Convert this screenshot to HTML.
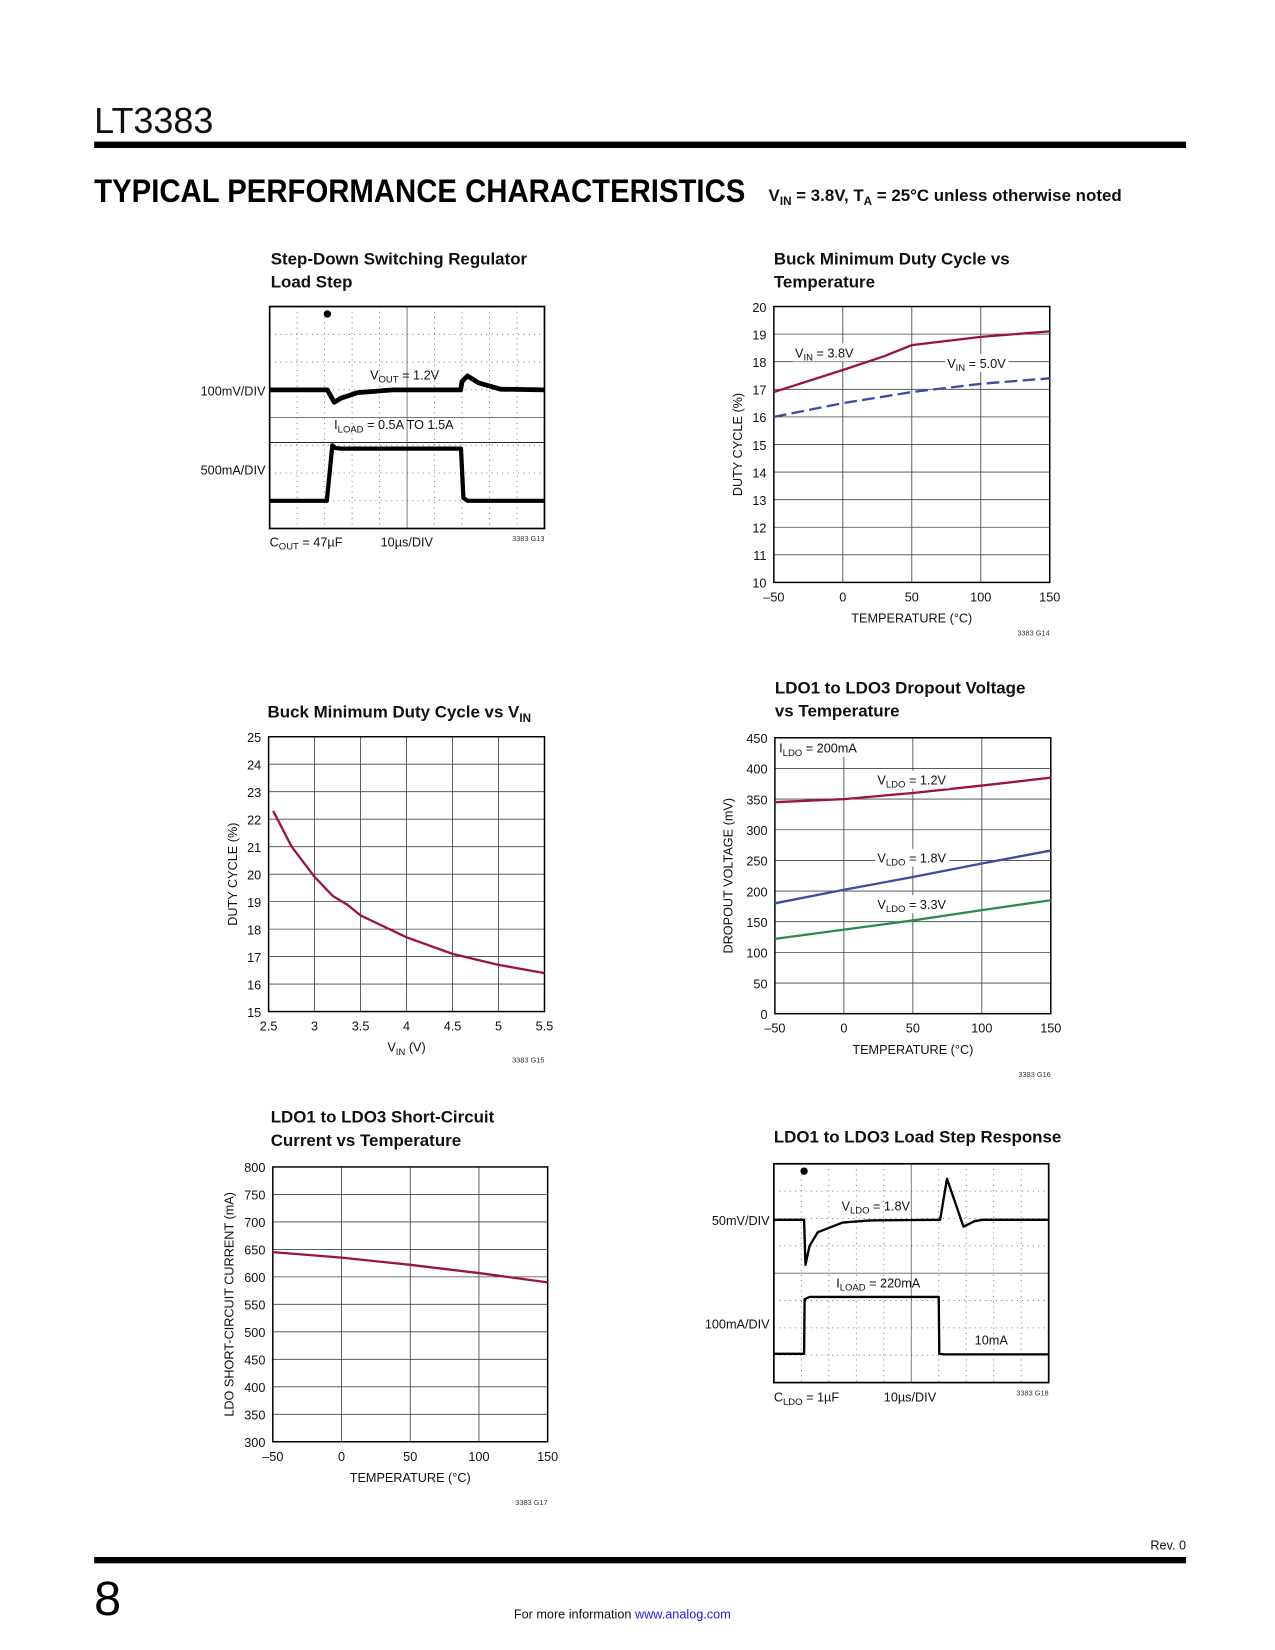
<!DOCTYPE html>
<html><head><meta charset="utf-8">
<style>
html,body{margin:0;padding:0;background:#fff;}
svg{display:block;font-family:"Liberation Sans Narrow","Liberation Sans",sans-serif;}
.t{font-size:12px;fill:#111;}
.h{font-size:16px;font-weight:bold;fill:#111;}
.s{font-size:7px;fill:#333;}
</style></head>
<body>
<svg id="pg" width="1275" height="1650" viewBox="0 0 1206 1561" xmlns="http://www.w3.org/2000/svg">
<text x="89" y="126" font-size="34" font-family="Liberation Sans" fill="#111">LT3383</text>
<rect x="89" y="134" width="1033" height="6" fill="#000"/>
<text x="89" y="191" font-size="31" font-weight="bold" fill="#000" textLength="616" lengthAdjust="spacingAndGlyphs">TYPICAL PERFORMANCE CHARACTERISTICS</text>
<text x="727" y="190" font-size="16" font-weight="bold" fill="#111">V<tspan font-size="11" dy="4">IN</tspan><tspan dy="-4"> = 3.8V, T</tspan><tspan font-size="11" dy="4">A</tspan><tspan dy="-4"> = 25°C unless otherwise noted</tspan></text>
<g id="charts"></g>
<text x="1122" y="1466" text-anchor="end" class="t" font-size="12">Rev. 0</text>
<rect x="89" y="1473" width="1033" height="6" fill="#000"/>
<text x="89" y="1528" font-size="46" font-family="Liberation Sans" fill="#000">8</text>
<text x="486" y="1531" class="t" font-size="14">For more information <tspan fill="#1a1aff">www.analog.com</tspan></text>
</svg>
<script>
// Chart 2: Buck min duty cycle vs temperature
const c2Temp=[-50,0,30,50,100,150];
const c2Vin38=[16.9,17.7,18.2,18.6,18.9,19.1];
const c2TempB=[-50,0,50,100,150];
const c2Vin50=[16.0,16.5,16.9,17.2,17.4];
const c2YTicks=[10,11,12,13,14,15,16,17,18,19,20];
const c2XTicks=[-50,0,50,100,150];
// Chart 3: duty cycle vs VIN
const c3Vin=[2.55,2.75,3.0,3.2,3.35,3.5,4.0,4.5,5.0,5.5];
const c3Duty=[22.3,21.0,19.9,19.2,18.9,18.5,17.7,17.1,16.7,16.4];
const c3YTicks=[15,16,17,18,19,20,21,22,23,24,25];
const c3XTicks=[2.5,3,3.5,4,4.5,5,5.5];
// Chart 4: dropout voltage
const c4Temp=[-50,0,50,100,150];
const c4V12=[345,350,360,372,385];
const c4V18=[180,202,223,245,266];
const c4V33=[122,137,152,169,185];
const c4YTicks=[0,50,100,150,200,250,300,350,400,450];
const c4XTicks=[-50,0,50,100,150];
// Chart 5: short-circuit current
const c5Temp=[-50,0,50,100,150];
const c5Cur=[645,635,622,607,590];
const c5YTicks=[300,350,400,450,500,550,600,650,700,750,800];
const c5XTicks=[-50,0,50,100,150];
// Scope traces (divisions)
const s1VoutT=[0,2.1,2.35,2.6,3.2,4.5,6.95,7.0,7.2,7.6,8.4,10];
const s1VoutV=[3.0,3.0,3.45,3.3,3.1,3.0,3.0,2.7,2.5,2.75,2.98,3.0];
const s1IT=[0,2.08,2.28,2.4,2.6,6.96,7.05,7.2,10];
const s1IV=[7.0,7.0,5.0,5.1,5.12,5.12,6.9,7.0,7.0];
const s2VT=[0,1.1,1.15,1.3,1.6,2.5,3.5,6.0,6.05,6.3,6.9,7.3,7.6,10];
const s2VV=[2.05,2.05,3.7,3.0,2.5,2.15,2.07,2.05,2.05,0.55,2.3,2.1,2.05,2.05];
const s2IT=[0,1.1,1.12,1.3,6.0,6.02,6.2,10];
const s2IV=[6.95,6.95,4.95,4.87,4.87,6.95,6.97,6.97];

const NS="http://www.w3.org/2000/svg";
const root=document.getElementById('charts');
function el(tag,attrs,parent){const e=document.createElementNS(NS,tag);for(const k in attrs)e.setAttribute(k,attrs[k]);(parent||root).appendChild(e);return e;}
function txt(x,y,s,cls,anchor,parent){const e=el('text',{x:x,y:y,class:cls||'t','text-anchor':anchor||'start'},parent);e.innerHTML=s;return e;}

function xyChart(o){
  const g=el('g',{});
  
  
  const sx=v=>o.x0+(v-o.xmin)/(o.xmax-o.xmin)*(o.x1-o.x0);
  const sy=v=>o.y1-(v-o.ymin)/(o.ymax-o.ymin)*(o.y1-o.y0);
  o.yt.forEach(v=>{const l=el('line',{x1:o.x0,x2:o.x1,y1:sy(v),y2:sy(v),stroke:'#444','stroke-width':0.8},g);
    
    
    const t=txt(o.x0-7,sy(v)+5,String(v),'t','end',g);
    
    });
  o.xt.forEach(v=>{const l=el('line',{x1:sx(v),x2:sx(v),y1:o.y0,y2:o.y1,stroke:'#444','stroke-width':0.8},g);
    
    
    const t=txt(sx(v),o.y1+18,String(v).replace('-','–'),'t','middle',g);
    
    });
  const b=el('rect',{x:o.x0,y:o.y0,width:o.x1-o.x0,height:o.y1-o.y0,fill:'none',stroke:'#000','stroke-width':1.4},g);
  
  
  o.series.forEach(s=>{
    const d=s.x.map((v,i)=>(i?'L':'M')+sx(v).toFixed(1)+' '+sy(s.y[i]).toFixed(1)).join(' ');
    const p=el('path',{d:d,fill:'none',stroke:s.c,'stroke-width':2.2,'stroke-dasharray':s.dash||'none'},g);
    
    
  });
  const tl=txt(o.tx,o.ty,o.title,'h','start',g);
  
  
  const xl=txt((o.x0+o.x1)/2,o.y1+38,o.xlabel,'t','middle',g);
  
  
  const yl=txt(0,0,o.ylabel,'t','middle',g);
  yl.setAttribute('transform','translate('+o.ylx+','+(o.y0+o.y1)/2+') rotate(-90)');
  
  
  const id=txt(o.x1,o.y1+o.idy,o.id,'s','end',g);
  
  
  (o.labels||[]).forEach(L=>{
    if(L.bg){el('rect',{x:L.x-2,y:L.y-13,width:L.w,height:17,fill:'#fff'},g);}
    const t=txt(L.x,L.y,L.s,'t','start',g);
    
    
  });
  return g;
}

xyChart({name:'duty-cycle-vs-temperature-chart',x0:732,x1:993,y0:290,y1:551,xmin:-50,xmax:150,ymin:10,ymax:20,xt:c2XTicks,yt:c2YTicks,
 series:[{x:c2Temp,y:c2Vin38,c:'#9b1535',name:'series-vin-3v8'},{x:c2TempB,y:c2Vin50,c:'#3a4fa3',dash:'12 5',name:'series-vin-5v0'}],
 title:'<tspan x="732">Buck Minimum Duty Cycle vs</tspan><tspan x="732" dy="22">Temperature</tspan>',tx:732,ty:250,
 xlabel:'TEMPERATURE (°C)',ylabel:'DUTY CYCLE (%)',ylx:702,id:'3383 G14',idy:50,
 labels:[{x:752,y:338,s:'V<tspan font-size="9" dy="3">IN</tspan><tspan dy="-3"> = 3.8V</tspan>',bg:1,w:60},{x:896,y:348,s:'V<tspan font-size="9" dy="3">IN</tspan><tspan dy="-3"> = 5.0V</tspan>',bg:1,w:60}]});

xyChart({name:'duty-cycle-vs-vin-chart',x0:254,x1:515,y0:697,y1:957,xmin:2.5,xmax:5.5,ymin:15,ymax:25,xt:c3XTicks,yt:c3YTicks,
 series:[{x:c3Vin,y:c3Duty,c:'#9b1535',name:'series-duty-cycle'}],
 title:'Buck Minimum Duty Cycle vs V<tspan font-size="11" dy="4">IN</tspan>',tx:253,ty:679,
 xlabel:'V<tspan font-size="9" dy="3">IN</tspan><tspan dy="-3"> (V)</tspan>',ylabel:'DUTY CYCLE (%)',ylx:224,id:'3383 G15',idy:48});

xyChart({name:'dropout-voltage-chart',x0:733,x1:994,y0:698,y1:959,xmin:-50,xmax:150,ymin:0,ymax:450,xt:c4XTicks,yt:c4YTicks,
 series:[{x:c4Temp,y:c4V12,c:'#9b1535',name:'series-vldo-1v2'},{x:c4Temp,y:c4V18,c:'#3a4fa3',name:'series-vldo-1v8'},{x:c4Temp,y:c4V33,c:'#2e8a4a',name:'series-vldo-3v3'}],
 title:'<tspan x="733">LDO1 to LDO3 Dropout Voltage</tspan><tspan x="733" dy="22">vs Temperature</tspan>',tx:733,ty:656,
 xlabel:'TEMPERATURE (°C)',ylabel:'DROPOUT VOLTAGE (mV)',ylx:693,id:'3383 G16',idy:60,
 labels:[{x:737,y:712,s:'I<tspan font-size="9" dy="3">LDO</tspan><tspan dy="-3"> = 200mA</tspan>',bg:1,w:80},
 {x:830,y:742,s:'V<tspan font-size="9" dy="3">LDO</tspan><tspan dy="-3"> = 1.2V</tspan>',bg:1,w:70},
 {x:830,y:816,s:'V<tspan font-size="9" dy="3">LDO</tspan><tspan dy="-3"> = 1.8V</tspan>',bg:1,w:70},
 {x:830,y:860,s:'V<tspan font-size="9" dy="3">LDO</tspan><tspan dy="-3"> = 3.3V</tspan>',bg:1,w:70}]});

xyChart({name:'short-circuit-current-chart',x0:258,x1:518,y0:1104,y1:1364,xmin:-50,xmax:150,ymin:300,ymax:800,xt:c5XTicks,yt:c5YTicks,
 series:[{x:c5Temp,y:c5Cur,c:'#9b1535',name:'series-short-circuit-current'}],
 title:'<tspan x="256">LDO1 to LDO3 Short-Circuit</tspan><tspan x="256" dy="22">Current vs Temperature</tspan>',tx:256,ty:1062,
 xlabel:'TEMPERATURE (°C)',ylabel:'LDO SHORT-CIRCUIT CURRENT (mA)',ylx:221,id:'3383 G17',idy:60});

function scope(o){
  const g=el('g',{});
  
  
  const dw=(o.x1-o.x0)/10, dh=(o.y1-o.y0)/8;
  const sx=v=>o.x0+v*dw, sy=v=>o.y0+v*dh;
  for(let i=1;i<10;i++){el('line',{x1:sx(i),x2:sx(i),y1:o.y0,y2:o.y1,stroke:'#666','stroke-width':0.8,'stroke-dasharray':i==5?'none':'1 4'},g);}
  for(let j=1;j<8;j++){el('line',{x1:o.x0,x2:o.x1,y1:sy(j),y2:sy(j),stroke:'#666','stroke-width':0.8,'stroke-dasharray':j==4?'none':'1 4'},g);}
  (o.hl||[]).forEach(v=>el('line',{x1:o.x0,x2:o.x1,y1:sy(v),y2:sy(v),stroke:'#222','stroke-width':1},g));
  const b=el('rect',{x:o.x0,y:o.y0,width:o.x1-o.x0,height:o.y1-o.y0,fill:'none',stroke:'#000','stroke-width':1.6},g);
  
  
  o.tr.forEach(s=>{
    const d=s.x.map((v,i)=>(i?'L':'M')+sx(v).toFixed(1)+' '+sy(s.y[i]).toFixed(1)).join(' ');
    const p=el('path',{d:d,fill:'none',stroke:'#000','stroke-width':s.w,'stroke-linejoin':'round'},g);
    
    
  });
  el('circle',{cx:sx(o.trig),cy:o.y0+7,r:3.5,fill:'#000'},g);
  const tl=txt(o.tx,o.ty,o.title,'h','start',g);
  
  
  o.labels.forEach(L=>{const t=txt(L.x,L.y,L.s,'t',L.a||'start',g);
    
    });
  const id=txt(o.x1,o.y1+12,o.id,'s','end',g);
  
  
}
scope({name:'buck-load-step-scope',x0:255,x1:515,y0:290,y1:500,trig:2.1,hl:[4.9],
 tr:[{x:s1VoutT,y:s1VoutV,w:4.5,name:'vout-trace'},{x:s1IT,y:s1IV,w:4,name:'iload-trace'}],
 title:'<tspan x="256">Step-Down Switching Regulator</tspan><tspan x="256" dy="22">Load Step</tspan>',tx:256,ty:250,id:'3383 G13',
 labels:[{x:251,y:374,s:'100mV/DIV',a:'end'},{x:251,y:449,s:'500mA/DIV',a:'end'},
 {x:350,y:359,s:'V<tspan font-size="9" dy="3">OUT</tspan><tspan dy="-3"> = 1.2V</tspan>'},
 {x:316,y:406,s:'I<tspan font-size="9" dy="3">LOAD</tspan><tspan dy="-3"> = 0.5A TO 1.5A</tspan>'},
 {x:255,y:517,s:'C<tspan font-size="9" dy="3">OUT</tspan><tspan dy="-3"> = 47µF</tspan>'},{x:360,y:517,s:'10µs/DIV'}]});
scope({name:'ldo-load-step-scope',x0:732,x1:992,y0:1101,y1:1308,trig:1.1,hl:[],
 tr:[{x:s2VT,y:s2VV,w:2.2,name:'vldo-trace'},{x:s2IT,y:s2IV,w:2.2,name:'iload-trace'}],
 title:'LDO1 to LDO3 Load Step Response',tx:732,ty:1081,id:'3383 G18',
 labels:[{x:728,y:1159,s:'50mV/DIV',a:'end'},{x:728,y:1257,s:'100mA/DIV',a:'end'},
 {x:796,y:1145,s:'V<tspan font-size="9" dy="3">LDO</tspan><tspan dy="-3"> = 1.8V</tspan>'},
 {x:791,y:1218,s:'I<tspan font-size="9" dy="3">LOAD</tspan><tspan dy="-3"> = 220mA</tspan>'},
 {x:922,y:1272,s:'10mA'},
 {x:732,y:1326,s:'C<tspan font-size="9" dy="3">LDO</tspan><tspan dy="-3"> = 1µF</tspan>'},{x:836,y:1326,s:'10µs/DIV'}]});
</script>
</body></html>
